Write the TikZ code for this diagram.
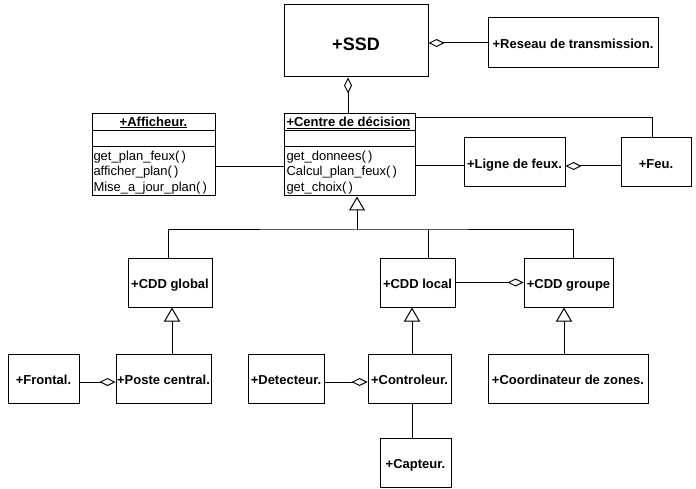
\documentclass[tikz,border=0pt]{standalone}
\usepackage{fontspec}
\setmainfont{Liberation Sans}
\usetikzlibrary{arrows.meta}
\begin{document}
\begin{tikzpicture}[x=1pt,y=-1pt, line width=1pt,
  box/.style={draw, rectangle, inner sep=0pt, minimum height=49pt, text height=12pt, text depth=0pt, font=\fontsize{13}{15}\selectfont\bfseries},
  agg/.style={-{Diamond[open,length=16pt,width=8pt]}},
  inh/.style={-{Triangle[open,length=14pt,width=16pt]}},
  meth/.style={inner sep=0pt, anchor=west, font=\fontsize{13}{15}\selectfont},
  ttl/.style={inner sep=0pt, font=\fontsize{13}{15}\selectfont\bfseries}]
\useasboundingbox[fill=white] (0,0) rectangle (696,489);
% boxes
\node[box, minimum width=144pt, minimum height=72pt, text height=19pt, font=\fontsize{18}{20}\selectfont\bfseries] (ssd) at (356,41) {+SSD};
\node[box, minimum width=170pt, minimum height=50pt] (reseau) at (573,43) {+Reseau de transmission.};
\node[box, minimum width=123pt, minimum height=82pt, text height=0pt] (aff) at (153.5,155) {};
\node[box, minimum width=131pt, minimum height=82pt, text height=0pt] (cdc) at (349.5,155) {};
\node[box, minimum width=101pt] (lig) at (514.5,162.5) {+Ligne de feux.};
\node[box, minimum width=70pt] (feu) at (656,162.5) {+Feu.};
\node[box, minimum width=84pt] (glob) at (170,282.5) {+CDD global};
\node[box, minimum width=75pt] (loc) at (417.5,282.5) {+CDD local};
\node[box, minimum width=89pt] (grp) at (568.5,282.5) {+CDD groupe};
\node[box, minimum width=71pt] (front) at (43.5,378.5) {+Frontal.};
\node[box, minimum width=95pt] (poste) at (163.5,378.5) {+Poste central.};
\node[box, minimum width=76pt] (det) at (286,378.5) {+Detecteur.};
\node[box, minimum width=83pt] (ctl) at (409.5,378.5) {+Controleur.};
\node[box, minimum width=71pt] (cap) at (415.5,462.5) {+Capteur.};
\node[box, minimum width=160pt] (coord) at (568,378.5) {+Coordinateur de zones.};
% class compartments
\draw (92,131) -- (215,131) (92,147) -- (215,147);
\draw (284,131) -- (415,131) (284,147) -- (415,147);
\node[ttl] (afft) at (153.5,122.5) {\underline{+Afficheur.}};
\node[ttl, anchor=west] (cdct) at (286,122.5) {\underline{+Centre de décision}};
\node[meth] (m1) at (93,157) {get\_plan\_feux(\,)};
\node[meth] (m2) at (93,172.5) {afficher\_plan(\,)};
\node[meth] (m3) at (93,188) {Mise\_a\_jour\_plan(\,)};
\node[meth] (m4) at (286,157) {get\_donnees(\,)};
\node[meth] (m5) at (286,172.5) {Calcul\_plan\_feux(\,)};
\node[meth] (m6) at (286,188) {get\_choix(\,)};
% connectors
\draw[agg] (reseau.west) -- (reseau.west -| ssd.east);
\coordinate (a1) at ([xshift=-1.5pt]cdc.north);
\draw[agg] (a1) -- (a1 |- ssd.south);
\draw ([yshift=-12pt]aff.east) -- ([yshift=-12pt]cdc.west);
\draw ([yshift=-11pt]cdc.east) -- ([yshift=-3.5pt]lig.west);
\draw[agg] ([yshift=-3.5pt]feu.west) -- ([yshift=-3.5pt]lig.east);
\draw ([yshift=-4pt]cdc.north east) -| ([xshift=-4pt]feu.north);
\coordinate (j) at (357,230);
\draw[inh] (j) -- (j |- cdc.south);
\coordinate (gl) at ([xshift=-2pt]glob.north);
\coordinate (gr) at ([xshift=4.5pt]grp.north);
\coordinate (lo) at ([xshift=10.5pt]loc.north);
\draw (gl) |- (j) -| (gr);
\draw (lo) -- (lo |- j);
\draw[agg] (loc.east) -- (grp.west);
\coordinate (p1) at ([xshift=8.5pt]poste.north);
\draw[inh] (p1) -- (p1 |- glob.south);
\draw[agg] ([yshift=-3.5pt]front.east) -- ([yshift=-3.5pt]poste.west);
\coordinate (c1) at ([xshift=2.5pt]ctl.north);
\draw[inh] (c1) -- (c1 |- loc.south);
\draw[agg] ([yshift=-3.5pt]det.east) -- ([yshift=-3.5pt]ctl.west);
\coordinate (c2) at ([xshift=-3.5pt]cap.north);
\draw (c2) -- (c2 |- ctl.south);
\coordinate (g1) at ([xshift=-4pt]coord.north);
\draw[inh] (g1) -- (g1 |- grp.south);
\end{tikzpicture}
\end{document}
